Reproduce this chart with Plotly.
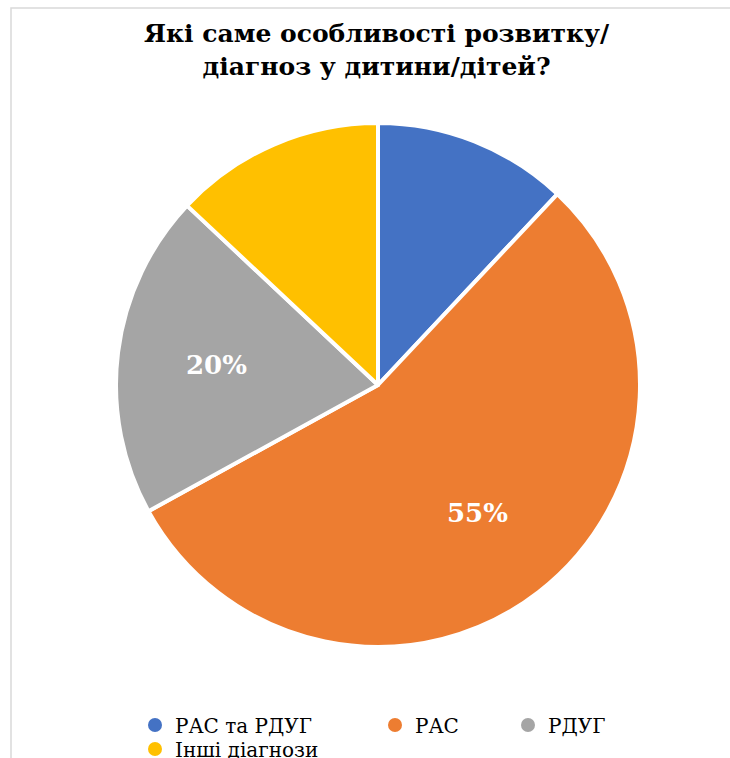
import math
import plotly.graph_objects as go

# Survey answers: which developmental features / diagnoses the child has
categories = ["РАС та РДУГ", "РАС", "РДУГ", "Інші діагнози"]
shares = [12, 55, 20, 13]
show_label = [False, True, True, False]
colors = ["#4472C4", "#ED7D31", "#A5A5A5", "#FFC000"]

title_text = "Які саме особливості розвитку/<br>діагноз у дитини/дітей?"

W, H = 730, 758
serif = "DejaVu Serif"

# Pie geometry in pixels
cx, cy, r = 378, 385, 262

fig = go.Figure()

fig.add_trace(go.Pie(
    labels=categories,
    values=shares,
    textinfo="none",
    marker=dict(colors=colors, line=dict(color="white", width=4)),
    sort=False,
    direction="clockwise",
    rotation=0,
    showlegend=False,
    hoverinfo="label+percent",
    domain=dict(x=[(cx - r) / W, (cx + r) / W], y=[1 - (cy + r) / H, 1 - (cy - r) / H]),
))

# Percentage labels placed along each slice's bisector
total = sum(shares)
start = 0.0
for val, show in zip(shares, show_label):
    frac = val / total
    mid = (start + frac / 2) * 2 * math.pi
    start += frac
    if not show:
        continue
    px = cx + 0.62 * r * math.sin(mid)
    py = cy - 0.62 * r * math.cos(mid)
    fig.add_annotation(
        text=f"{round(frac * 100)}%", xref="paper", yref="paper",
        x=px / W, y=1 - py / H, xanchor="center", yanchor="middle",
        showarrow=False,
        font=dict(family=serif, size=26, color="white", weight="bold"),
    )

# Legend entries with round markers, each in its own legend box
legend_pos = [(135, 725), (375, 725), (508, 725), (135, 749)]
legend_names = ["legend", "legend2", "legend3", "legend4"]
for name, col, lg in zip(categories, colors, legend_names):
    fig.add_trace(go.Scatter(
        x=[None], y=[None], mode="markers", name=name,
        marker=dict(symbol="circle", size=14, color=col),
        legend=lg, showlegend=True, hoverinfo="skip",
    ))

layout_legends = {}
for lg, (px, py) in zip(legend_names, legend_pos):
    layout_legends[lg] = dict(
        x=px / W, y=1 - py / H, xanchor="left", yanchor="middle",
        orientation="h", bgcolor="rgba(0,0,0,0)",
        font=dict(family=serif, size=20, color="#000000"),
        itemwidth=30,
    )

fig.update_layout(
    width=W, height=H,
    font=dict(family=serif),
    margin=dict(l=0, r=0, t=0, b=0, autoexpand=False),
    paper_bgcolor="white",
    plot_bgcolor="white",
    xaxis=dict(visible=False),
    yaxis=dict(visible=False),
    **layout_legends,
)

fig.add_annotation(
    text=title_text, xref="paper", yref="paper",
    x=377 / W, y=1 - 17 / H, xanchor="center", yanchor="top",
    showarrow=False, align="center",
    font=dict(family=serif, size=25, color="#000000", weight="bold"),
)

# Chart-area frame
fig.add_shape(
    type="rect", xref="paper", yref="paper",
    x0=11 / W, x1=1.05, y0=-0.05, y1=1 - 8 / H,
    line=dict(color="#D9D9D9", width=1.5), layer="below",
)

fig.write_html("out.html")
